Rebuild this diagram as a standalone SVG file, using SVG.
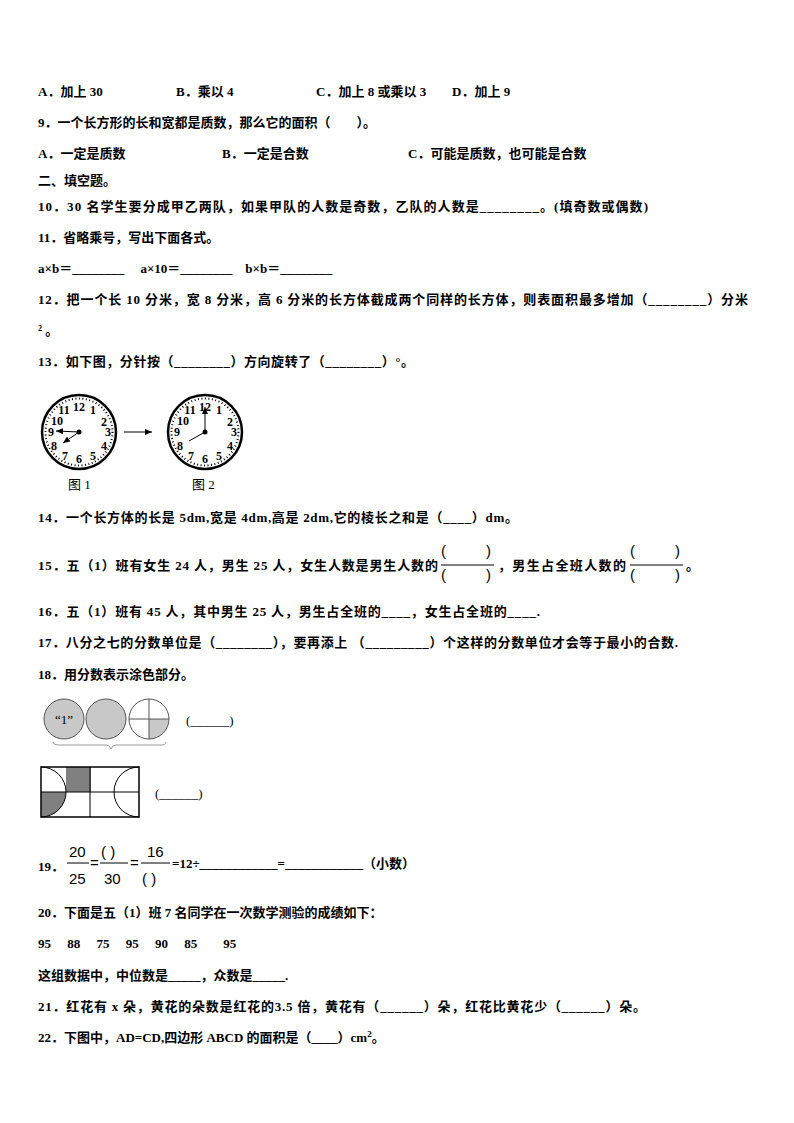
<svg xmlns="http://www.w3.org/2000/svg" width="794" height="1123" viewBox="0 0 794 1123">
<style>
text{font-family:"Liberation Serif","Noto Sans CJK SC",serif;font-size:13px;font-weight:bold;fill:#000}
.n{font-weight:normal}
.cn{font-family:"Liberation Serif",serif;font-size:12px;font-weight:bold;text-anchor:middle}
.ln{stroke:#000;stroke-width:1;fill:none}
.fr{font-family:"Liberation Sans",sans-serif;font-size:15px;font-weight:normal}
</style>
<defs>
<marker id="ar" markerWidth="8" markerHeight="8" refX="7" refY="4" orient="auto"><path d="M0,1 L7,4 L0,7 Z" fill="#000"/></marker>
<g id="face">
<circle r="37" fill="#fff" stroke="#000" stroke-width="2.5"/>
<circle r="33.5" fill="none" stroke="#000" stroke-width="2" stroke-dasharray="1 2.5"/>
<text class="cn" x="0" y="-21">12</text><text class="cn" x="14" y="-18">1</text><text class="cn" x="25" y="-6">2</text>
<text class="cn" x="29" y="4">3</text><text class="cn" x="25" y="18">4</text><text class="cn" x="14" y="28">5</text>
<text class="cn" x="0" y="31">6</text><text class="cn" x="-14" y="28">7</text><text class="cn" x="-25" y="18">8</text>
<text class="cn" x="-28" y="4">9</text><text class="cn" x="-22" y="-7">10</text><text class="cn" x="-15" y="-18">11</text>
<circle r="2.5" fill="#000"/>
</g>
</defs>
<text x="38" y="96">A．加上 30</text><text x="176" y="96">B．乘以 4</text><text x="316" y="96">C．加上 8 或乘以 3</text><text x="452" y="96">D．加上 9</text>
<text x="38" y="127">9．一个长方形的长和宽都是质数，那么它的面积（　　）。</text>
<text x="38" y="158">A．一定是质数</text><text x="222" y="158">B．一定是合数</text><text x="408" y="158">C．可能是质数，也可能是合数</text>
<text x="38" y="185">二、填空题。</text>
<text x="38" y="211" textLength="610">10．30 名学生要分成甲乙两队，如果甲队的人数是奇数，乙队的人数是________。(填奇数或偶数)</text>
<text x="38" y="242">11．省略乘号，写出下面各式。</text>
<text x="38" y="273">a×b＝________　 a×10＝________　b×b＝________</text>
<text x="38" y="304" textLength="710">12．把一个长 10 分米，宽 8 分米，高 6 分米的长方体截成两个同样的长方体，则表面积最多增加（________）分米</text>
<text x="38" y="335"><tspan font-size="8" dy="-4">2</tspan><tspan dy="4"> 。</tspan></text>
<text x="38" y="366" textLength="376">13．如下图，分针按（________）方向旋转了（________）°。</text>
<g id="clock1" transform="translate(79,432)"><use href="#face"/>
<line class="ln" x1="0" y1="0" x2="-23" y2="-1" stroke-width="1.5" marker-end="url(#ar)"/>
<line class="ln" x1="0" y1="0" x2="-16" y2="11" stroke-width="2" marker-end="url(#ar)"/></g>
<g id="clock2" transform="translate(205,432)"><use href="#face"/>
<line class="ln" x1="0" y1="0" x2="0" y2="-25" stroke-width="1.5" marker-end="url(#ar)"/>
<line class="ln" x1="0" y1="0" x2="-16" y2="9" stroke-width="2"/></g>
<g id="connectors"><line class="ln" x1="124" y1="432" x2="152" y2="432" marker-end="url(#ar)"/></g>
<text class="n" x="68" y="489" font-size="14">图 1</text><text class="n" x="192" y="489" font-size="14">图 2</text>
<text x="38" y="522" textLength="480">14．一个长方体的长是 5dm,宽是 4dm,高是 2dm,它的棱长之和是（____）dm。</text>
<text x="38" y="570" textLength="400">15．五（1）班有女生 24 人，男生 25 人，女生人数是男生人数的</text>
<g><text class="fr" x="441" y="556">(</text><text class="fr" x="486" y="556">)</text><line class="ln" x1="441" y1="565" x2="494" y2="565"/><text class="fr" x="441" y="580">(</text><text class="fr" x="486" y="580">)</text></g>
<text x="498" y="570" textLength="128">，男生占全班人数的</text>
<g><text class="fr" x="630" y="556">(</text><text class="fr" x="675" y="556">)</text><line class="ln" x1="630" y1="565" x2="683" y2="565"/><text class="fr" x="630" y="580">(</text><text class="fr" x="675" y="580">)</text></g>
<text x="686" y="570">。</text>
<text x="38" y="616" textLength="502">16．五（1）班有 45 人，其中男生 25 人，男生占全班的____，女生占全班的____.</text>
<text x="38" y="647" textLength="640">17．八分之七的分数单位是（________），要再添上 （_________）个这样的分数单位才会等于最小的合数.</text>
<text x="38" y="679">18．用分数表示涂色部分。</text>
<g id="circles">
<circle cx="64" cy="719" r="20" fill="#c8c8c8" stroke="#555"/>
<text class="n" x="64" y="724" text-anchor="middle" font-size="15">“1”</text>
<circle cx="106" cy="719" r="20" fill="#c8c8c8" stroke="#555"/>
<path d="M149,719 L169,719 A20,20 0 0 1 149,739 Z" fill="#c8c8c8"/>
<circle cx="149" cy="719" r="20" fill="none" stroke="#555"/>
<line x1="129" y1="719" x2="169" y2="719" stroke="#555"/><line x1="149" y1="699" x2="149" y2="739" stroke="#555"/>
<path d="M53,742 Q53,745 60,745 L106,745 Q110,745 111,749 Q112,745 116,745 L161,745 Q166,745 166,742" fill="none" stroke="#999"/>
</g>
<text class="n" x="186" y="725">(______)</text>
<g id="rect">
<rect x="66" y="767" width="25" height="25" fill="#808080"/>
<path d="M41,792 L66,792 A25,25 0 0 1 41,817 Z" fill="#808080"/>
<path d="M41,767 A25,25 0 0 1 66,792" fill="#fff" stroke="none"/>
<path d="M41,767 A25,25 0 0 1 41,817" fill="none" stroke="#000"/>
<path d="M139,767 A25,25 0 0 0 139,817" fill="none" stroke="#000"/>
<rect x="41" y="767" width="98" height="50" fill="none" stroke="#000" stroke-width="1.5"/>
<line class="ln" x1="90" y1="767" x2="90" y2="817"/><line class="ln" x1="41" y1="792" x2="139" y2="792"/>
</g>
<text class="n" x="155" y="798">(______)</text>
<text x="38" y="871">19．</text>
<text class="fr" x="69" y="857">20</text><line class="ln" x1="67" y1="863" x2="89" y2="863"/><text class="fr" x="69" y="884">25</text>
<text class="fr" x="90" y="868" font-size="12">=</text>
<text class="fr" x="101" y="857">(   )</text><line class="ln" x1="100" y1="863" x2="128" y2="863"/><text class="fr" x="104" y="884">30</text>
<text class="fr" x="130" y="868" font-size="12">=</text>
<text class="fr" x="147" y="857">16</text><line class="ln" x1="141" y1="863" x2="170" y2="863"/><text class="fr" x="142" y="884">(   )</text>
<text x="172" y="868">=12÷____________=____________（小数）</text>
<text x="38" y="917">20．下面是五（1）班 7 名同学在一次数学测验的成绩如下：</text>
<text x="38" y="948">95　 88　 75　 95　 90　 85　　95</text>
<text x="38" y="980">这组数据中，中位数是_____，众数是_____.</text>
<text x="38" y="1011" textLength="608">21．红花有 x 朵，黄花的朵数是红花的3.5 倍，黄花有（______）朵，红花比黄花少（______）朵。</text>
<text x="38" y="1042">22．下图中，AD=CD,四边形 ABCD 的面积是（____）cm<tspan font-size="9" dy="-5">2</tspan><tspan dy="5">。</tspan></text>
</svg>
